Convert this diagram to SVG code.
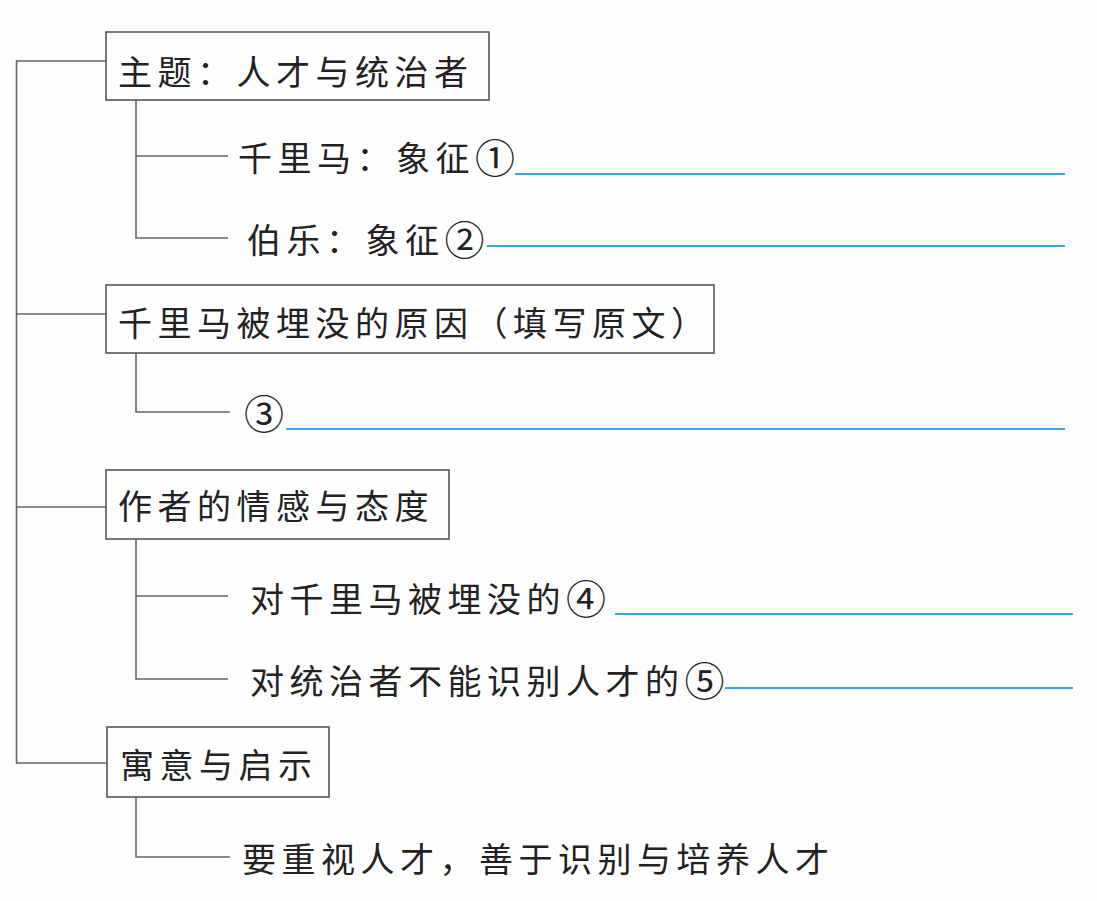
<svg xmlns="http://www.w3.org/2000/svg" width="1097" height="901" viewBox="0 0 1097 901">
<style>
.bg{fill:#fefefe}
.box{fill:#fefefe;stroke:#555;stroke-width:1.6}
.c{fill:none;stroke:#666;stroke-width:1.6}
.blank{stroke:#3fa9df;stroke-width:2.2}
text{font-family:"Noto Sans CJK SC","Noto Sans CJK JP",sans-serif;font-size:34px;fill:#222;letter-spacing:5.5px;dominant-baseline:central}
.n{font-size:40px;letter-spacing:0}
</style>
<rect class="bg" x="0" y="0" width="1097" height="901"/>
<g id="connectors">
<polyline class="c" points="106,61 16.5,61 16.5,763 107,763"/>
<line class="c" x1="16.5" y1="314" x2="106" y2="314"/>
<line class="c" x1="16.5" y1="507" x2="106" y2="507"/>
<polyline class="c" points="136,100 136,238 228,238"/>
<line class="c" x1="136" y1="156" x2="228" y2="156"/>
<polyline class="c" points="136,353 136,412 230,412"/>
<polyline class="c" points="136,539 136,679 228,679"/>
<line class="c" x1="136" y1="596" x2="228" y2="596"/>
<polyline class="c" points="136,797 136,857 230,857"/>
</g>
<g id="node-theme">
<rect class="box" x="106" y="32" width="383" height="68"/>
<text x="118" y="70">主题：人才与统治者</text>
</g>
<g id="node-horse">
<text x="238" y="156">千里马：象征<tspan class="n">①</tspan></text>
<line class="blank" x1="515" y1="174" x2="1065" y2="174"/>
</g>
<g id="node-bole">
<text x="247" y="238">伯乐：象征<tspan class="n">②</tspan></text>
<line class="blank" x1="487" y1="246" x2="1065" y2="246"/>
</g>
<g id="node-reason">
<rect class="box" x="106" y="285" width="608" height="68"/>
<text x="118" y="321">千里马被埋没的原因（填写原文）</text>
</g>
<g id="node-3">
<text x="244" y="412"><tspan class="n">③</tspan></text>
<line class="blank" x1="286" y1="429" x2="1065" y2="429"/>
</g>
<g id="node-emotion">
<rect class="box" x="106" y="470" width="343" height="69"/>
<text x="118" y="504">作者的情感与态度</text>
</g>
<g id="node-4">
<text x="250" y="597">对千里马被埋没的<tspan class="n">④</tspan></text>
<line class="blank" x1="615" y1="614" x2="1073" y2="614"/>
</g>
<g id="node-5">
<text x="250" y="679">对统治者不能识别人才的<tspan class="n">⑤</tspan></text>
<line class="blank" x1="725" y1="688" x2="1073" y2="688"/>
</g>
<g id="node-moral">
<rect class="box" x="107" y="727" width="222" height="70"/>
<text x="120" y="763">寓意与启示</text>
</g>
<g id="node-lesson">
<text x="242" y="857">要重视人才，善于识别与培养人才</text>
</g>
</svg>
